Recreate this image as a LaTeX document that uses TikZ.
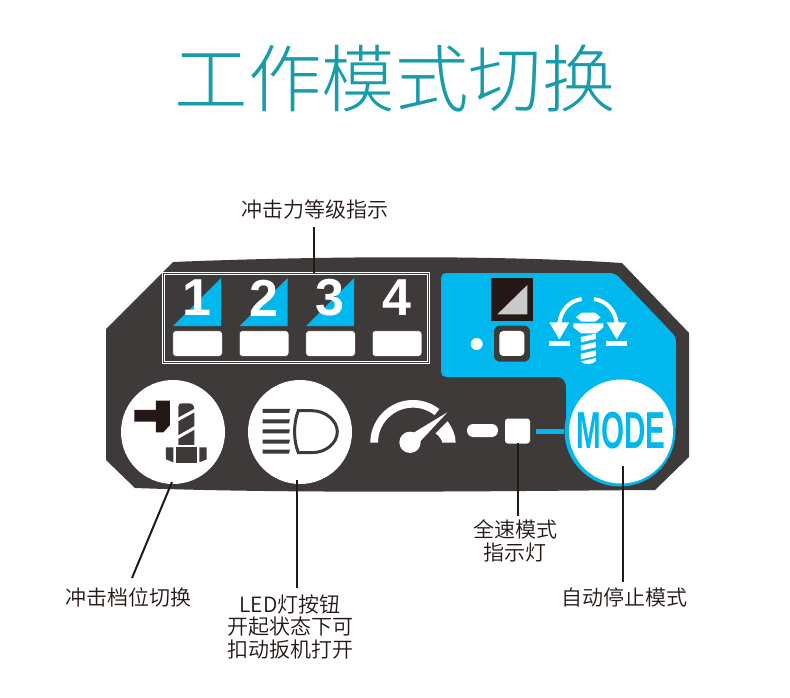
\documentclass[tikz,border=0pt]{standalone}
\usepackage{fontspec}
\setmainfont{Liberation Sans}
\newfontfamily\cjkl{Noto Sans CJK SC Light}
\newfontfamily\cjkd{Noto Sans CJK SC DemiLight}
\definecolor{panel}{HTML}{3E3A39}
\definecolor{sky}{HTML}{00B7EE}
\definecolor{ink}{HTML}{231815}
\definecolor{teal}{HTML}{189CAC}
\definecolor{greyt}{HTML}{C9CACA}
\tikzset{
  lbl/.style={font=\cjkd\fontsize{21}{22.5}\selectfont,text=ink,align=center,inner sep=0pt},
  digit/.style={font=\bfseries\fontsize{52}{52}\selectfont,text=white,inner sep=0pt},
  wbtn/.style={fill=white,draw=panel,line width=0.5pt,rounded corners=3pt,inner sep=0pt,minimum width=49.5pt,minimum height=25.5pt},
  bigc/.style={circle,fill=white,minimum size=104pt,inner sep=0pt},
  conn/.style={draw=ink,line width=2pt},
  z1/.style={shift={(100,250)},x=0.3333pt,y=-0.3333pt},
  z2/.style={shift={(360,250)},x=0.3333pt,y=-0.3333pt},
  z4/.style={shift={(470,270)},x=0.3333pt,y=-0.3333pt},
  z6/.style={shift={(365,400)},x=0.3333pt,y=-0.3333pt},
}
\begin{document}
\begin{tikzpicture}[x=1pt,y=-1pt]
\useasboundingbox (0,0) rectangle (790,698);
\fill[white] (0,0) rectangle (790,698);
\node[inner sep=0pt,text=teal,font=\cjkl\fontsize{73.5}{73.5}\selectfont] (title) at (395,79) {工作模式切换};
% panel
\fill[panel] (173,262) .. controls (320,256) and (500,255) .. (622,263) -- (689,333) -- (689,457) -- (655,490) .. controls (500,491) and (300,494) .. (135,488) -- (106,460) -- (106,329) -- cycle;
% blue area
\fill[sky,rounded corners=5pt] (441,273) -- (615,273) -- (676,337) -- (676,432) -- (566,432) -- (566,391) .. controls (566,382) and (562,377) .. (553,377) -- (441,377) -- cycle;
% level frame
\node[draw=white,double=panel,double distance=1pt,line width=0.7pt,minimum width=265pt,minimum height=89pt,inner sep=0pt] (frame) at (296,318) {};
% triangles, digits, lamps
\foreach \i/\dx in {0/0,1/66.5,2/133} {
  \fill[sky] (173+\dx,326) -- (221+\dx,326) -- (221+\dx,278) -- cycle;
}
\node[digit] (d1) at (197,298) {1};
\node[digit] (d2) at (264,298) {2};
\node[digit] (d3) at (330,298) {3};
\node[digit] (d4) at (397,298) {4};
\node[wbtn] (b1) at (197.5,343.5) {};
\node[wbtn] (b2) at (264,343.5) {};
\node[wbtn] (b3) at (330.5,343.5) {};
\node[wbtn] (b4) at (397,343.5) {};
% big buttons
\node[bigc] (impact) at (173,432) {};
\node[bigc] (led) at (300,432) {};
\node[circle,fill=sky,minimum size=111pt,inner sep=0pt] (modering) at (620,431) {};
\node[bigc] (mode) at (621,431.5) {};
\node[font=\bfseries\fontsize{52}{52}\selectfont,text=sky,xscale=0.57,inner sep=0pt] (modetxt) at (621,431) {MODE};
% impact icon
\begin{scope}[z1]
\fill[ink] (103,480) -- (168,480) -- (168,452) -- (210,452) -- (210,525) -- (190,547) -- (168,547) -- (168,515) -- (103,515) -- cycle;
\fill[panel] (235,470) .. controls (235,462) and (240,460) .. (247,460) -- (270,460) .. controls (278,462) and (283,466) .. (283,475) -- (283,585) -- (235,585) -- cycle;
\draw[white,line width=3pt] (228,512) -- (290,478);
\draw[white,line width=3pt] (228,565) -- (290,530);
\fill[panel] (198,592) -- (220,592) -- (220,637) -- (198,628) -- cycle;
\fill[panel] (227,592) -- (292,592) -- (292,638) -- (227,638) -- cycle;
\fill[panel] (298,592) -- (320,592) -- (320,628) -- (298,637) -- cycle;
% LED icon
\foreach \yy in {483,514,544,575,605} {
  \fill[panel] (488,\yy-6) -- (570,\yy-6) -- (567,\yy+6) -- (488,\yy+6) -- cycle;
}
\draw[panel,line width=3pt] (595,482) -- (635,482) .. controls (680,482) and (712,515) .. (712,545) .. controls (712,578) and (680,608) .. (635,608) -- (595,608) .. controls (580,570) and (580,520) .. (595,482) -- cycle;
\end{scope}
% gauge
\begin{scope}[z6]
\fill[white] plot[domain=180:308,samples=40] ({144+128*cos(\x)},{128+128*sin(\x)}) -- plot[domain=308:180,samples=40] ({144+105*cos(\x)},{128+105*sin(\x)}) -- cycle;
\fill[white] (248,64) .. controls (262,84) and (272,105) .. (272,128) -- (232,128) .. controls (230,118) and (222,108) .. (212,100) -- cycle;
\fill[white] (135,127) circle (32);
\fill[white] (247,37) -- (165,125) -- (143,100) -- cycle;
\end{scope}
% pill and full-speed lamp
\node[fill=white,rounded corners=6.3pt,minimum width=31pt,minimum height=13pt,inner sep=0pt] (pill) at (482.5,430.5) {};
\node[fill=white,rounded corners=3pt,minimum width=25pt,minimum height=25pt,inner sep=0pt] (fsq) at (517.5,431) {};
\draw[sky,line width=5pt,shorten <=6pt] (fsq.east) -- (modering.west);
% blue-panel icons
\begin{scope}[z4]
\fill[ink] (62,25) rectangle (189,152);
\fill[greyt] (82,133) -- (172,45) -- (172,133) -- cycle;
\fill[panel,rounded corners=6pt] (72,167) rectangle (180,275);
\fill[white,rounded corners=4pt] (88,183) rectangle (163,258);
\fill[white] (20,222) circle (18);
\fill[white] (318,142) -- (335,128) -- (375,128) -- (392,142) -- (375,155) -- (335,155) -- cycle;
\fill[white] (310,160) -- (400,160) -- (400,172) -- (378,190) -- (333,190) -- (310,172) -- cycle;
\fill[white] (333,201) -- (378,191) -- (378,207) -- (333,217) -- cycle;
\fill[white] (333,226) -- (378,216) -- (378,232) -- (333,242) -- cycle;
\fill[white] (333,251) -- (378,241) -- (378,258) -- (333,268) -- cycle;
\fill[white] (333,274) -- (378,264) -- (378,272) .. controls (370,285) and (340,285) .. (333,274) -- cycle;
\draw[white,line width=4pt] (335,87) .. controls (300,92) and (272,120) .. (268,160);
\draw[white,line width=4pt] (372,87) .. controls (408,92) and (436,120) .. (440,160);
\fill[white] (238,157) -- (298,157) -- (268,208) -- cycle;
\fill[white] (410,157) -- (470,157) -- (440,208) -- cycle;
\fill[white] (236,213) rectangle (300,228);
\fill[white] (408,213) rectangle (472,228);
\end{scope}
% labels
\node[lbl] (lbla) at (314.5,210) {冲击力等级指示};
\node[lbl] (lblb) at (128,597) {冲击档位切换};
\node[lbl] (lblc) at (290,627) {LED灯按钮\\开起状态下可\\扣动扳机打开};
\node[lbl] (lbld) at (515,541) {全速模式\\指示灯};
\node[lbl] (lble) at (624,597) {自动停止模式};
% connector ends
\coordinate (ea) at (314,273);
\coordinate (la) at (314,227);
\coordinate (eb) at (172,482);
\coordinate (lb) at (132,578);
\coordinate (ec) at (297,480);
\coordinate (lc) at (297,588);
\coordinate (ed) at (518,443);
\coordinate (ld) at (518,516);
\coordinate (ee) at (623,466);
\coordinate (le) at (623,582);
\draw[conn] (la) -- (ea);
\draw[conn] (lb) -- (eb);
\draw[conn] (lc) -- (ec);
\draw[conn] (ld) -- (ed);
\draw[conn] (le) -- (ee);
\end{tikzpicture}
\end{document}
